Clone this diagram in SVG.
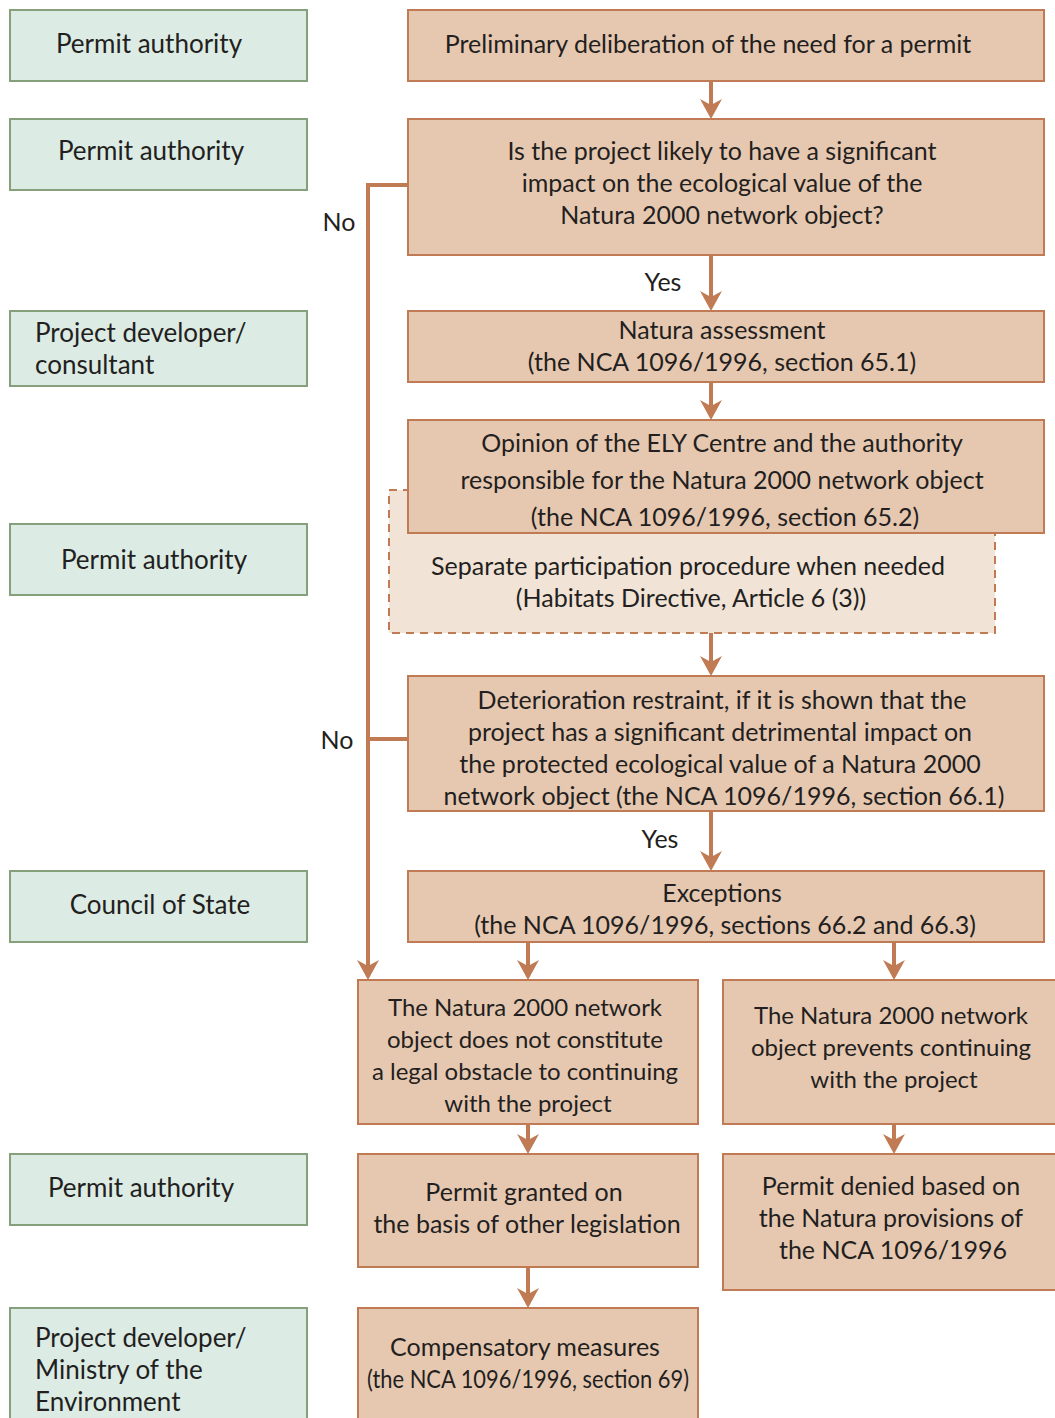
<svg xmlns="http://www.w3.org/2000/svg" width="1055" height="1418" viewBox="0 0 1055 1418">
<defs>
<style>
.g{fill:#dcebe4;stroke:#85a07b;stroke-width:2}
.p{fill:#e6c8b1;stroke:#c07a54;stroke-width:2}
.d{fill:#f1e3d6;stroke:#c07a54;stroke-width:2;stroke-dasharray:8 6}
text{font-family:Lato,"Liberation Sans",sans-serif;font-size:25px;fill:#231f20}
.r{font-size:26px}
.s{font-size:24px}
.c{text-anchor:middle}
.ln{fill:none;stroke:#c07a54;stroke-width:4}
</style>
<marker id="ah" markerUnits="userSpaceOnUse" markerWidth="22" markerHeight="24" refX="6" refY="11" orient="auto">
<path d="M0,0 L20,11 L0,22 L6,11 Z" fill="#c07a54"/>
</marker>
</defs>
<rect width="1055" height="1418" fill="#fff"/>

<g id="role1"><rect class="g" x="10" y="10" width="297" height="71"/><text class="c r" x="149" y="53">Permit authority</text></g>
<g id="role2"><rect class="g" x="10" y="119" width="297" height="71"/><text class="c r" x="151" y="160">Permit authority</text></g>
<g id="role3"><rect class="g" x="10" y="311" width="297" height="75"/><text class="r" x="35" y="342">Project developer/</text><text class="r" x="35" y="374">consultant</text></g>
<g id="role4"><rect class="g" x="10" y="524" width="297" height="71"/><text class="c r" x="154" y="569">Permit authority</text></g>
<g id="role5"><rect class="g" x="10" y="871" width="297" height="71"/><text class="c r" x="160" y="914">Council of State</text></g>
<g id="role6"><rect class="g" x="10" y="1154" width="297" height="71"/><text class="c r" x="141" y="1197">Permit authority</text></g>
<g id="role7"><rect class="g" x="10" y="1308" width="297" height="130"/><text class="r" x="35" y="1347">Project developer/</text><text class="r" x="35" y="1379">Ministry of the</text><text class="r" x="35" y="1411">Environment</text></g>

<g id="n1"><rect class="p" x="408" y="10" width="636" height="71"/><text class="c" x="708" y="53">Preliminary deliberation of the need for a permit</text></g>
<g id="n2"><rect class="p" x="408" y="119" width="636" height="136"/><text class="c" x="722" y="160">Is the project likely to have a significant</text><text class="c" x="722" y="192">impact on the ecological value of the</text><text class="c" x="722" y="224">Natura 2000 network object?</text></g>
<g id="n3"><rect class="p" x="408" y="311" width="636" height="71"/><text class="c" x="722" y="339">Natura assessment</text><text class="c" x="722" y="371">(the NCA 1096/1996, section 65.1)</text></g>
<g id="n4b"><rect class="d" x="389" y="490" width="606" height="143"/><text class="c" x="688" y="575">Separate participation procedure when needed</text><text class="c" x="691" y="607">(Habitats Directive, Article 6 (3))</text></g>
<g id="n4"><rect class="p" x="408" y="420" width="636" height="113"/><text class="c" x="722" y="452">Opinion of the ELY Centre and the authority</text><text class="c" x="722" y="489">responsible for the Natura 2000 network object</text><text class="c" x="725" y="526">(the NCA 1096/1996, section 65.2)</text></g>
<g id="n5"><rect class="p" x="408" y="676" width="636" height="135"/><text class="c" x="722" y="709">Deterioration restraint, if it is shown that the</text><text class="c" x="720" y="741">project has a significant detrimental impact on</text><text class="c" x="720" y="773">the protected ecological value of a Natura 2000</text><text class="c" x="724" y="805">network object (the NCA 1096/1996, section 66.1)</text></g>
<g id="n6"><rect class="p" x="408" y="871" width="636" height="71"/><text class="c" x="722" y="902">Exceptions</text><text class="c" x="725" y="934">(the NCA 1096/1996, sections 66.2 and 66.3)</text></g>
<g id="n7"><rect class="p" x="358" y="980" width="340" height="144"/><text class="c s" x="525" y="1016">The Natura 2000 network</text><text class="c s" x="525" y="1048">object does not constitute</text><text class="c s" x="525" y="1080">a legal obstacle to continuing</text><text class="c s" x="528" y="1112">with the project</text></g>
<g id="n8"><rect class="p" x="723" y="980" width="345" height="144"/><text class="c s" x="891" y="1024">The Natura 2000 network</text><text class="c s" x="891" y="1056">object prevents continuing</text><text class="c s" x="894" y="1088">with the project</text></g>
<g id="n9"><rect class="p" x="358" y="1154" width="340" height="113"/><text class="c" x="524" y="1201">Permit granted on</text><text class="c" x="527" y="1233">the basis of other legislation</text></g>
<g id="n10"><rect class="p" x="723" y="1154" width="345" height="136"/><text class="c" x="891" y="1195">Permit denied based on</text><text class="c" x="891" y="1227">the Natura provisions of</text><text class="c" x="893" y="1259">the NCA 1096/1996</text></g>
<g id="n11"><rect class="p" x="358" y="1308" width="340" height="130"/><text class="c" x="525" y="1356">Compensatory measures</text><text class="c" x="528" y="1388" textLength="322" lengthAdjust="spacingAndGlyphs">(the NCA 1096/1996, section 69)</text></g>

<g id="connectors">
<path class="ln" d="M711,81 V105" marker-end="url(#ah)"/>
<path class="ln" d="M711,255 V297" marker-end="url(#ah)"/>
<path class="ln" d="M711,382 V406" marker-end="url(#ah)"/>
<path class="ln" d="M711,633 V662" marker-end="url(#ah)"/>
<path class="ln" d="M711,811 V857" marker-end="url(#ah)"/>
<path class="ln" d="M528,942 V966" marker-end="url(#ah)"/>
<path class="ln" d="M894,942 V966" marker-end="url(#ah)"/>
<path class="ln" d="M528,1124 V1140" marker-end="url(#ah)"/>
<path class="ln" d="M894,1124 V1140" marker-end="url(#ah)"/>
<path class="ln" d="M528,1267 V1294" marker-end="url(#ah)"/>
<path class="ln" d="M408,185 H368 V966" marker-end="url(#ah)"/>
<path class="ln" d="M408,739 H368"/>
<text class="c" x="339" y="231">No</text>
<text class="c" x="337" y="749">No</text>
<text class="c" x="663" y="291">Yes</text>
<text class="c" x="660" y="848">Yes</text>
</g>
</svg>
